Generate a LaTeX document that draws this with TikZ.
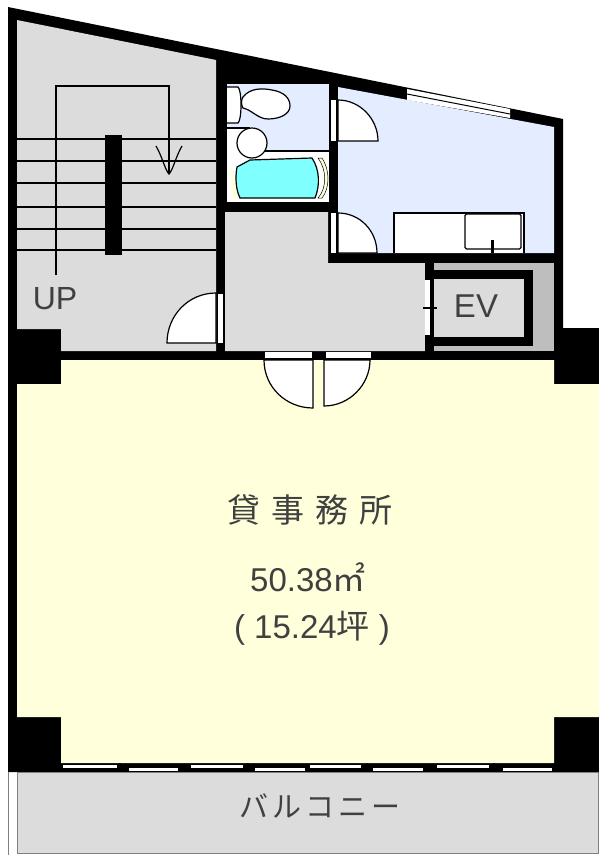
\documentclass[tikz,border=0pt]{standalone}
\usepackage{fontspec}
\setmainfont{Liberation Sans}
\newfontfamily\cjkfont{Noto Sans CJK JP}
\definecolor{wallblack}{HTML}{000000}
\definecolor{floorgray}{HTML}{DCDCDC}
\definecolor{shaftgray}{HTML}{BEBEBE}
\definecolor{wetblue}{HTML}{E4ECFF}
\definecolor{officecream}{HTML}{FFFFDC}
\definecolor{tubcyan}{HTML}{80FFFF}
\definecolor{inkgray}{HTML}{404040}
\tikzset{
  wall/.style={fill=wallblack},
  floor/.style={fill=floorgray},
  fixture/.style={draw=black,fill=white,line width=1.2pt},
  doorleaf/.style={draw=black,fill=white,line width=1.2pt},
  doorslit/.style={fill=white},
  tread/.style={draw=black,line width=1.2pt},
  roomtext/.style={text=inkgray,font=\fontsize{33}{33}\selectfont,inner sep=0pt}
}
\begin{document}
\begin{tikzpicture}[x=1pt,y=-1pt]
\useasboundingbox (0,0) rectangle (599,857);

\fill[wall] (8,7) -- (563,119) -- (563,328) -- (599,328) -- (599,772) -- (8,772) -- cycle;

\fill[fill=officecream] (17,384) -- (61,384) -- (61,360) -- (554,360) -- (554,384) -- (599,384) -- (599,717) -- (554,717) -- (554,763) -- (61,763) -- (61,717) -- (17,717) -- cycle;

\fill[floor] (17,20) -- (216,60) -- (216,351) -- (61,351) -- (61,329) -- (17,329) -- cycle;
\draw[tread] (17,139) -- (216,139);
\draw[tread] (17,161) -- (216,161);
\draw[tread] (17,183) -- (216,183);
\draw[tread] (17,207) -- (216,207);
\draw[tread] (17,229) -- (216,229);
\draw[tread] (17,250) -- (216,250);
\fill[wall] (105,135) rectangle (122,255);
\draw[tread] (56,275) -- (56,86) -- (169,86) -- (169,174);
\draw[tread] (156,146) .. controls (162,156) and (165,170) .. (169,174) .. controls (173,170) and (176,156) .. (182,146);
\node[roomtext,font=\fontsize{32}{32}\selectfont] (uplabel) at (55,299) {UP};
\fill[doorslit] (218,294) rectangle (223,343);
\draw[doorleaf] (216,293) .. controls (188.4,293) and (167,315.4) .. (167,343) -- (216,343) -- cycle;

\fill[floor] (225,212) -- (328,212) -- (328,263) -- (425,263) -- (425,351) -- (225,351) -- cycle;

\fill[fill=wetblue] (227,84) rectangle (329,151);
\draw[fixture] (227,87) -- (238,87) .. controls (242,90) and (242,120) .. (238,123) -- (227,123);
\draw[fixture] (243,97) .. controls (250,88) and (262,88) .. (272,90) .. controls (284,92) and (290,98) .. (290,106) .. controls (290,114) and (280,119) .. (268,119) .. controls (258,119) and (252,110) .. (243,108) .. controls (241,105) and (241,100) .. (243,97) -- cycle;
\fill[white] (227,128) rectangle (256,151);
\draw[black,line width=1.2pt] (227,128) -- (250,128);
\fill[fill=white] (227,151) rectangle (329,202);
\draw[black,line width=1.2pt] (255,151) -- (329,151);
\draw[fixture] (252,143) circle [radius=15];
\fill[fill=officecream] (231,168) .. controls (236,178) and (234,190) .. (239,198) -- (234,198) .. controls (230,190) and (232,178) .. (229,168) -- cycle;
\fill[fill=officecream,draw=black,line width=0.5pt] (318,158) .. controls (327,170) and (327,188) .. (318,198) -- (322,198) .. controls (330,188) and (330,170) .. (322,158) -- cycle;
\draw[draw=black,fill=tubcyan,line width=1.2pt] (237,167) -- (250,160) -- (312,158) .. controls (320,170) and (320,186) .. (315,198) -- (240,198) .. controls (236,190) and (235,178) .. (237,167) -- cycle;

\fill[fill=wetblue] (338,87) -- (554,127) -- (554,253) -- (338,253) -- cycle;
\fill[doorslit] (331,100) rectangle (336,141);
\draw[doorleaf] (338,100) .. controls (360,100) and (378,119) .. (378,141) -- (338,141) -- cycle;
\fill[doorslit] (331,213) rectangle (336,253);
\draw[doorleaf] (338,213) .. controls (360,213) and (377,231) .. (377,253) -- (338,253) -- cycle;
\fill[white] (407,89) -- (510,109) -- (510,118) -- (407,100) -- cycle;
\draw[black,line width=1pt] (407,94) -- (510,114);
\draw[fixture] (394,253) -- (394,213) -- (524,213) -- (524,253);
\draw[fixture,rounded corners=1.5pt] (465,214) rectangle (521,249);
\fill[wall] (490.5,240) rectangle (493.5,253);

\fill[fill=shaftgray] (434,263) rectangle (554,351);
\fill[wall] (434,270) rectangle (533,346);
\fill[fill=floorgray] (434,279) rectangle (524,337);
\fill[wall] (425,263) rectangle (434,280);
\fill[wall] (425,335) rectangle (434,351);
\fill[fill=white] (425,280) rectangle (431,335);
\draw[black,line width=1.2pt] (431,280) -- (431,335);
\draw[black,line width=1.2pt] (423,308) -- (437,308);
\node[roomtext] (evlabel) at (476,306) {EV};

\fill[doorslit] (265,352) rectangle (312,358);
\fill[doorslit] (326,352) rectangle (371,358);
\draw[doorleaf] (264,360) .. controls (264,387) and (286,408) .. (313,408) -- (313,360) -- cycle;
\draw[doorleaf] (370,360) .. controls (370,385) and (349,406) .. (324,406) -- (324,360) -- cycle;

\node[roomtext] (roomlabel) at (310,510) {\cjkfont 貸\hspace{11pt}事\hspace{11pt}務\hspace{11pt}所};
\node[roomtext] (arealabel) at (308,577) {50.38{\cjkfont ㎡}};
\node[roomtext] (tsubolabel) at (312,628) {(\hspace{9pt}15.24{\cjkfont 坪}\hspace{9pt})};

\fill[doorslit] (63,765) rectangle (117,768);
\fill[doorslit] (129,768) rectangle (178,771);
\fill[doorslit] (191,765) rectangle (243,768);
\fill[doorslit] (255,768) rectangle (305,771);
\fill[doorslit] (310,765) rectangle (361,768);
\fill[doorslit] (373,768) rectangle (423,771);
\fill[doorslit] (437,765) rectangle (489,768);
\fill[doorslit] (503,768) rectangle (552,771);
\draw[black,line width=1.2pt] (120,763) -- (120,775);
\draw[black,line width=1.2pt] (248,763) -- (248,775);
\draw[black,line width=1.2pt] (367,763) -- (367,775);
\draw[black,line width=1.2pt] (494,763) -- (494,775);

\draw[draw=gray,line width=1pt,fill=floorgray] (17,772) rectangle (598,853);
\draw[draw=gray,line width=1pt] (8.5,772) -- (8.5,855);
\node[roomtext,font=\fontsize{29}{29}\selectfont] (balconylabel) at (320,806) {\cjkfont バ\hspace{4pt}ル\hspace{4pt}コ\hspace{4pt}ニ\hspace{4pt}ー};
\end{tikzpicture}
\end{document}
